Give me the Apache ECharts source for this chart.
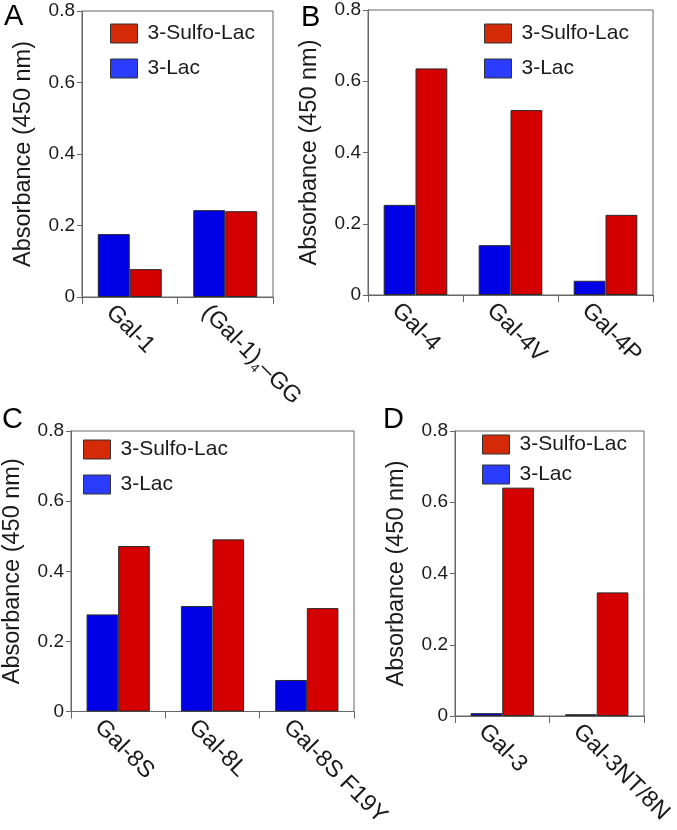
<!DOCTYPE html>
<html>
<head>
<meta charset="utf-8">
<script src="https://cdn.jsdelivr.net/npm/echarts@6/dist/echarts.min.js"></script>
<style>
html,body{margin:0;padding:0;background:#fff;}
#chart{width:677px;height:830px;}
</style>
</head>
<body>
<div id="chart"></div>
<script>
// ---- data ----
const seriesNames = ['3-Lac', '3-Sulfo-Lac'];
const legendOrder = ['3-Sulfo-Lac', '3-Lac'];
const yTicks = [0, 0.2, 0.4, 0.6, 0.8];

const catsA = ['Gal-1', '(Gal-1)4–GG'];
const lacA = [0.176, 0.243];
const sulfoA = [0.078, 0.240];

const catsB = ['Gal-4', 'Gal-4V', 'Gal-4P'];
const lacB = [0.253, 0.140, 0.040];
const sulfoB = [0.636, 0.519, 0.225];

const catsC = ['Gal-8S', 'Gal-8L', 'Gal-8S F19Y'];
const lacC = [0.277, 0.301, 0.090];
const sulfoC = [0.472, 0.491, 0.295];

const catsD = ['Gal-3', 'Gal-3NT/8N'];
const lacD = [0.008, 0.005];
const sulfoD = [0.641, 0.347];

const panelLetters = ['A', 'B', 'C', 'D'];

// ---- layout ----
const FONT = '"Liberation Sans", Arial, Helvetica, sans-serif';
const W = 677;
const grids = [
  {left: 82, right: W - 273, top: 11, height: 286},
  {left: 368, right: W - 653, top: 10, height: 285},
  {left: 70, right: W - 354, top: 431, height: 285},
  {left: 455, right: W - 644, top: 431, height: 285}
];
const legendPos = [
  {left: 110, top: 23, gap: 14},
  {left: 484, top: 23, gap: 14},
  {left: 83, top: 439, gap: 14},
  {left: 482, top: 434, gap: 9}
];
const letterPos = [[4, 2], [301, 3], [2, 405], [383, 405]];
const panels = [
  {cats: catsA, lac: lacA, sulfo: sulfoA},
  {cats: catsB, lac: lacB, sulfo: sulfoB},
  {cats: catsC, lac: lacC, sulfo: sulfoC},
  {cats: catsD, lac: lacD, sulfo: sulfoD}
];

const AXIS = '#666';
const TXT = '#1a1a1a';
const BLUE = '#0000e6';
const RED = '#d40000';
const LEG_BLUE = '#2a3cff';
const LEG_RED = '#d42a08';

function catFormatter(v) {
  const m = v.match(/^(.*\))(\d)(.*)$/);
  if (m) return '{m|' + m[1] + '}{s|' + m[2] + '}{m|' + m[3] + '}';
  return '{m|' + v + '}';
}

const option = {
  animation: false,
  backgroundColor: '#fff',
  textStyle: {fontFamily: FONT},
  grid: grids.map(g => Object.assign({show: true, borderColor: AXIS, borderWidth: 1, backgroundColor: 'transparent'}, g)),
  xAxis: panels.map((p, i) => ({
    type: 'category',
    gridIndex: i,
    data: p.cats,
    axisLine: {lineStyle: {color: AXIS, width: 1}},
    axisTick: {show: true, length: 7, alignWithLabel: false, lineStyle: {color: AXIS}},
    axisLabel: {
      interval: 0,
      rotate: -45,
      margin: -8,
      align: 'left',
      verticalAlign: 'top',
      padding: [14, 0, 0, 0],
      color: TXT,
      fontFamily: FONT,
      formatter: catFormatter,
      rich: {
        m: {fontSize: 23.5, lineHeight: 28, color: TXT, fontFamily: FONT},
        s: {fontSize: 13, lineHeight: 13, padding: [15, 0, 0, 0], color: TXT, fontFamily: FONT}
      }
    },
    splitLine: {show: false}
  })),
  yAxis: panels.map((p, i) => ({
    type: 'value',
    gridIndex: i,
    min: yTicks[0],
    max: yTicks[yTicks.length - 1],
    interval: yTicks[1] - yTicks[0],
    name: 'Absorbance (450 nm)',
    nameLocation: 'middle',
    nameGap: 46,
    nameTextStyle: {fontSize: 23.5, color: TXT, fontFamily: FONT},
    axisLine: {show: true, lineStyle: {color: AXIS, width: 1}},
    axisTick: {show: true, length: 5, lineStyle: {color: AXIS}},
    axisLabel: {fontSize: 19, color: TXT, margin: 7, fontFamily: FONT},
    splitLine: {show: false}
  })),
  legend: panels.map((p, i) => ({
    orient: 'vertical',
    left: legendPos[i].left,
    top: legendPos[i].top,
    itemWidth: 27,
    itemHeight: 19,
    itemGap: legendPos[i].gap,
    icon: 'rect',
    selectedMode: false,
    padding: 0,
    textStyle: {fontSize: 21, lineHeight: 20, color: TXT, fontFamily: FONT, padding: [0, 0, 0, 5]},
    data: [
      {name: legendOrder[0], itemStyle: {color: LEG_RED, borderColor: '#333', borderWidth: 1}},
      {name: legendOrder[1], itemStyle: {color: LEG_BLUE, borderColor: '#333', borderWidth: 1}}
    ]
  })),
  graphic: panelLetters.map((t, i) => ({
    type: 'text',
    left: letterPos[i][0],
    top: letterPos[i][1],
    style: {text: t, fontSize: 29, fontFamily: FONT, fill: '#000'}
  })),
  series: []
};

panels.forEach((p, i) => {
  option.series.push({
    type: 'bar', name: seriesNames[0], xAxisIndex: i, yAxisIndex: i,
    data: p.lac, barGap: '0%', barCategoryGap: '33%',
    itemStyle: {color: BLUE, borderColor: '#2a2a2a', borderWidth: 1}
  });
  option.series.push({
    type: 'bar', name: seriesNames[1], xAxisIndex: i, yAxisIndex: i,
    data: p.sulfo, barGap: '0%', barCategoryGap: '33%',
    itemStyle: {color: RED, borderColor: '#2a2a2a', borderWidth: 1}
  });
});

const chart = echarts.init(document.getElementById('chart'), null, {renderer: 'canvas'});
chart.setOption(option);
</script>
</body>
</html>
